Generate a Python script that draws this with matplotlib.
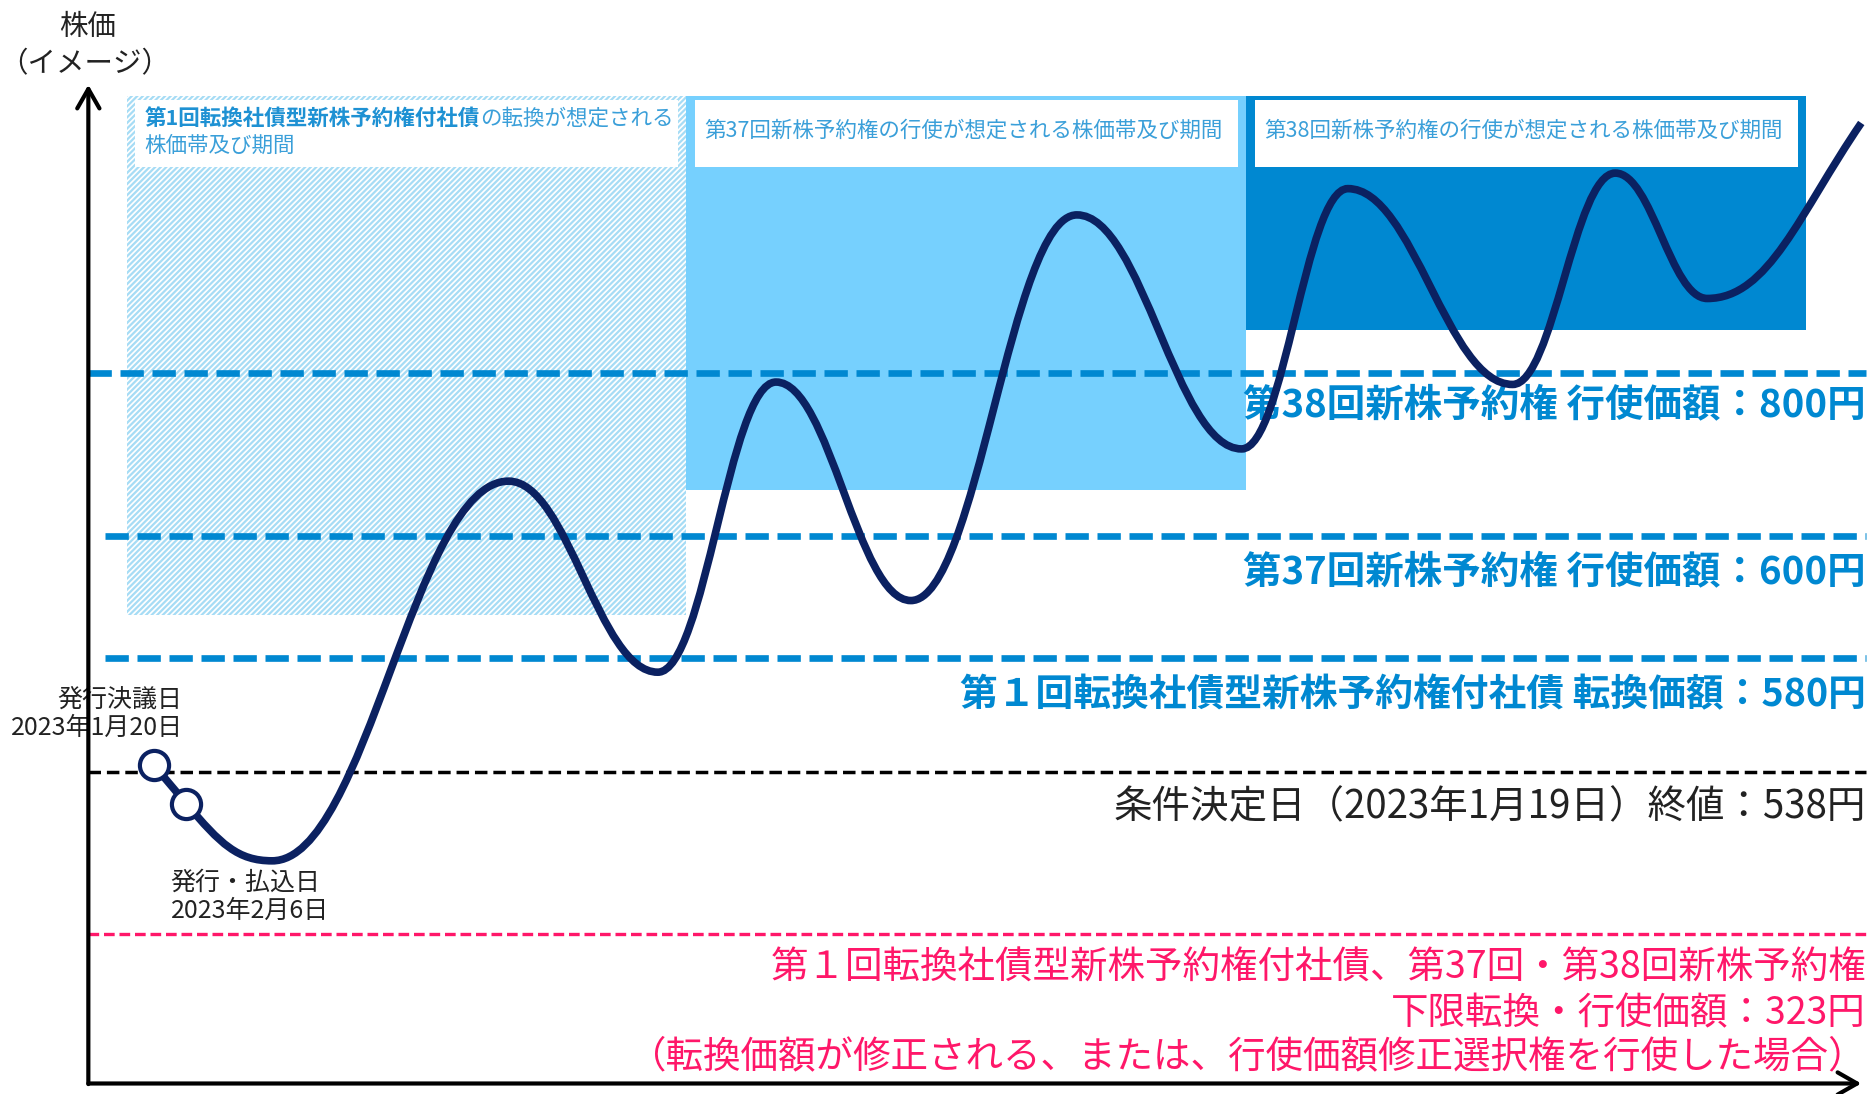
import matplotlib.pyplot as plt
from matplotlib.patches import Rectangle, FancyArrowPatch, PathPatch
from matplotlib.path import Path

plt.rcParams['font.family'] = ['Noto Sans CJK JP', 'DejaVu Sans']
plt.rcParams['hatch.linewidth'] = 1.6

# 株価の動き（イメージ）: 谷と山の位置（画像上の座標）
wave_x = [228, 426, 551, 650, 763, 902, 1040, 1129, 1267, 1353, 1430, 1559]
wave_y = [721, 403, 563, 320, 503, 180, 376, 158, 322, 145, 250, 103]

# 発行決議日・発行払込日
event_x = [129, 156]
event_y = [641, 673]
event_labels = [["発行決議日", "2023年1月20日"], ["発行・払込日", "2023年2月6日"]]

# 各価格ライン
level_price = [800, 600, 580, 538, 323]
level_y = [312, 449, 551, 647, 782]

# 想定される株価帯及び期間
zone_x0 = [106, 575, 1044]
zone_x1 = [575, 1044, 1513]
zone_top = [80, 80, 80]
zone_bottom = [515, 410, 276]
zone_title = ["",
              "第37回新株予約権の行使が想定される株価帯及び期間",
              "第38回新株予約権の行使が想定される株価帯及び期間"]

navy = '#0B2161'
blue = '#0088D1'
light = '#76D0FE'
pink = '#FF1769'
label_blue = '#3A9FD9'

fig = plt.figure(figsize=(18.72, 10.94), dpi=100)
ax = fig.add_axes([0, 0, 1, 1])
ax.set_xlim(0, 1568)
ax.set_ylim(916.3, 0)
ax.axis('off')

# 期間の帯
ax.add_patch(Rectangle((zone_x0[0], zone_top[0]), zone_x1[0] - zone_x0[0],
                       zone_bottom[0] - zone_top[0], facecolor='white',
                       edgecolor='#A6DCF5', hatch='//////', linewidth=0, zorder=1))
ax.add_patch(Rectangle((zone_x0[1], zone_top[1]), zone_x1[1] - zone_x0[1],
                       zone_bottom[1] - zone_top[1], facecolor=light,
                       linewidth=0, zorder=1))
ax.add_patch(Rectangle((zone_x0[2], zone_top[2]), zone_x1[2] - zone_x0[2],
                       zone_bottom[2] - zone_top[2], facecolor=blue,
                       linewidth=0, zorder=1))
for i in range(3):
    ax.add_patch(Rectangle((zone_x0[i] + 7, zone_top[i] + 4),
                           zone_x1[i] - zone_x0[i] - 14, 56,
                           facecolor='white', linewidth=0, zorder=2))

t1 = ax.text(121, 100, "第1回転換社債型新株予約権付社債", fontsize=15.5,
             fontweight='bold', color='#1E91D3', va='center', zorder=3)
ax.annotate("の転換が想定される", xy=(1, 0), xycoords=t1, fontsize=15.5,
            color=label_blue, va='bottom', ha='left', zorder=3)
ax.text(121, 122, "株価帯及び期間", fontsize=15.5, color=label_blue,
        va='center', zorder=3)
for i in [1, 2]:
    ax.text(zone_x0[i] + 15, 109, zone_title[i], fontsize=15.5,
            color=label_blue, va='center', zorder=3)

# 価格ライン
ax.plot([74, 1563], [level_y[0]] * 2, color=blue, lw=4.8,
        ls=(0, (3.5, 1.3)), zorder=3)
ax.plot([88, 1563], [level_y[1]] * 2, color=blue, lw=4.8,
        ls=(0, (3.5, 1.3)), zorder=3)
ax.plot([88, 1563], [level_y[2]] * 2, color=blue, lw=4.8,
        ls=(0, (3.5, 1.3)), zorder=3)
ax.plot([74, 1563], [level_y[3]] * 2, color='black', lw=2.5,
        ls=(0, (3.6, 1.7)), zorder=3)
ax.plot([74, 1563], [level_y[4]] * 2, color=pink, lw=2.4,
        ls=(0, (3.2, 1.45)), zorder=3)

ax.text(1563, 339, f"第38回新株予約権 行使価額：{level_price[0]}円",
        fontsize=27.7, fontweight='bold', color=blue, ha='right',
        va='center', zorder=4)
ax.text(1563, 479, f"第37回新株予約権 行使価額：{level_price[1]}円",
        fontsize=27.7, fontweight='bold', color=blue, ha='right',
        va='center', zorder=4)
ax.text(1563, 582, f"第１回転換社債型新株予約権付社債 転換価額：{level_price[2]}円",
        fontsize=27.2, fontweight='bold', color=blue, ha='right',
        va='center', zorder=4)
ax.text(1563, 676, f"条件決定日（2023年1月19日）終値：{level_price[3]}円",
        fontsize=27.7, color='#222222', ha='right', va='center', zorder=4)
pink_lines = ["第１回転換社債型新株予約権付社債、第37回・第38回新株予約権",
              f"下限転換・行使価額：{level_price[4]}円",
              "（転換価額が修正される、または、行使価額修正選択権を行使した場合）"]
for y, s in zip([811, 849, 885], pink_lines):
    ax.text(1563, y, s, fontsize=27, color=pink, ha='right', va='center',
            zorder=4)

# 株価の曲線
kx = [event_x[1]] + wave_x
ky = [event_y[1]] + wave_y
slopes = [(event_y[1] - event_y[0]) / (event_x[1] - event_x[0])] + \
    [0] * (len(wave_x) - 1) + [-1.46]
verts = [(kx[0], ky[0])]
codes = [Path.MOVETO]
k = 0.4
for i in range(len(kx) - 1):
    dx = kx[i + 1] - kx[i]
    verts += [(kx[i] + k * dx, ky[i] + k * dx * slopes[i]),
              (kx[i + 1] - k * dx, ky[i + 1] - k * dx * slopes[i + 1]),
              (kx[i + 1], ky[i + 1])]
    codes += [Path.CURVE4] * 3
ax.add_patch(PathPatch(Path(verts, codes), facecolor='none', edgecolor=navy,
                       lw=5.5, capstyle='butt', zorder=5))
ax.plot(event_x, event_y, color=navy, lw=5.5, marker='o', ms=21,
        mfc='white', mec=navy, mew=3, zorder=6)

# 日付
ax.text(153, 586, event_labels[0][0], fontsize=18, color='#222222',
        ha='right', va='center', zorder=4)
ax.text(153, 610, event_labels[0][1], fontsize=18, color='#222222',
        ha='right', va='center', zorder=4)
ax.text(143, 739, event_labels[1][0], fontsize=18, color='#222222',
        ha='left', va='center', zorder=4)
ax.text(143, 763, event_labels[1][1], fontsize=18, color='#222222',
        ha='left', va='center', zorder=4)

# 軸
ax.add_patch(FancyArrowPatch((74, 908), (74, 71),
                             arrowstyle='->,head_length=0.7,head_width=0.4',
                             mutation_scale=20, lw=3, color='black',
                             shrinkA=0, shrinkB=0, zorder=7))
ax.add_patch(FancyArrowPatch((74, 907.5), (1559, 907.5),
                             arrowstyle='->,head_length=0.7,head_width=0.4',
                             mutation_scale=20, lw=3, color='black',
                             shrinkA=0, shrinkB=0, zorder=7))
ax.text(73, 23, "株価", fontsize=20.5, color='#222222', ha='center',
        va='center')
ax.text(71, 54, "（イメージ）", fontsize=20.5, color='#222222', ha='center',
        va='center')

plt.savefig('out.png', dpi=100)
